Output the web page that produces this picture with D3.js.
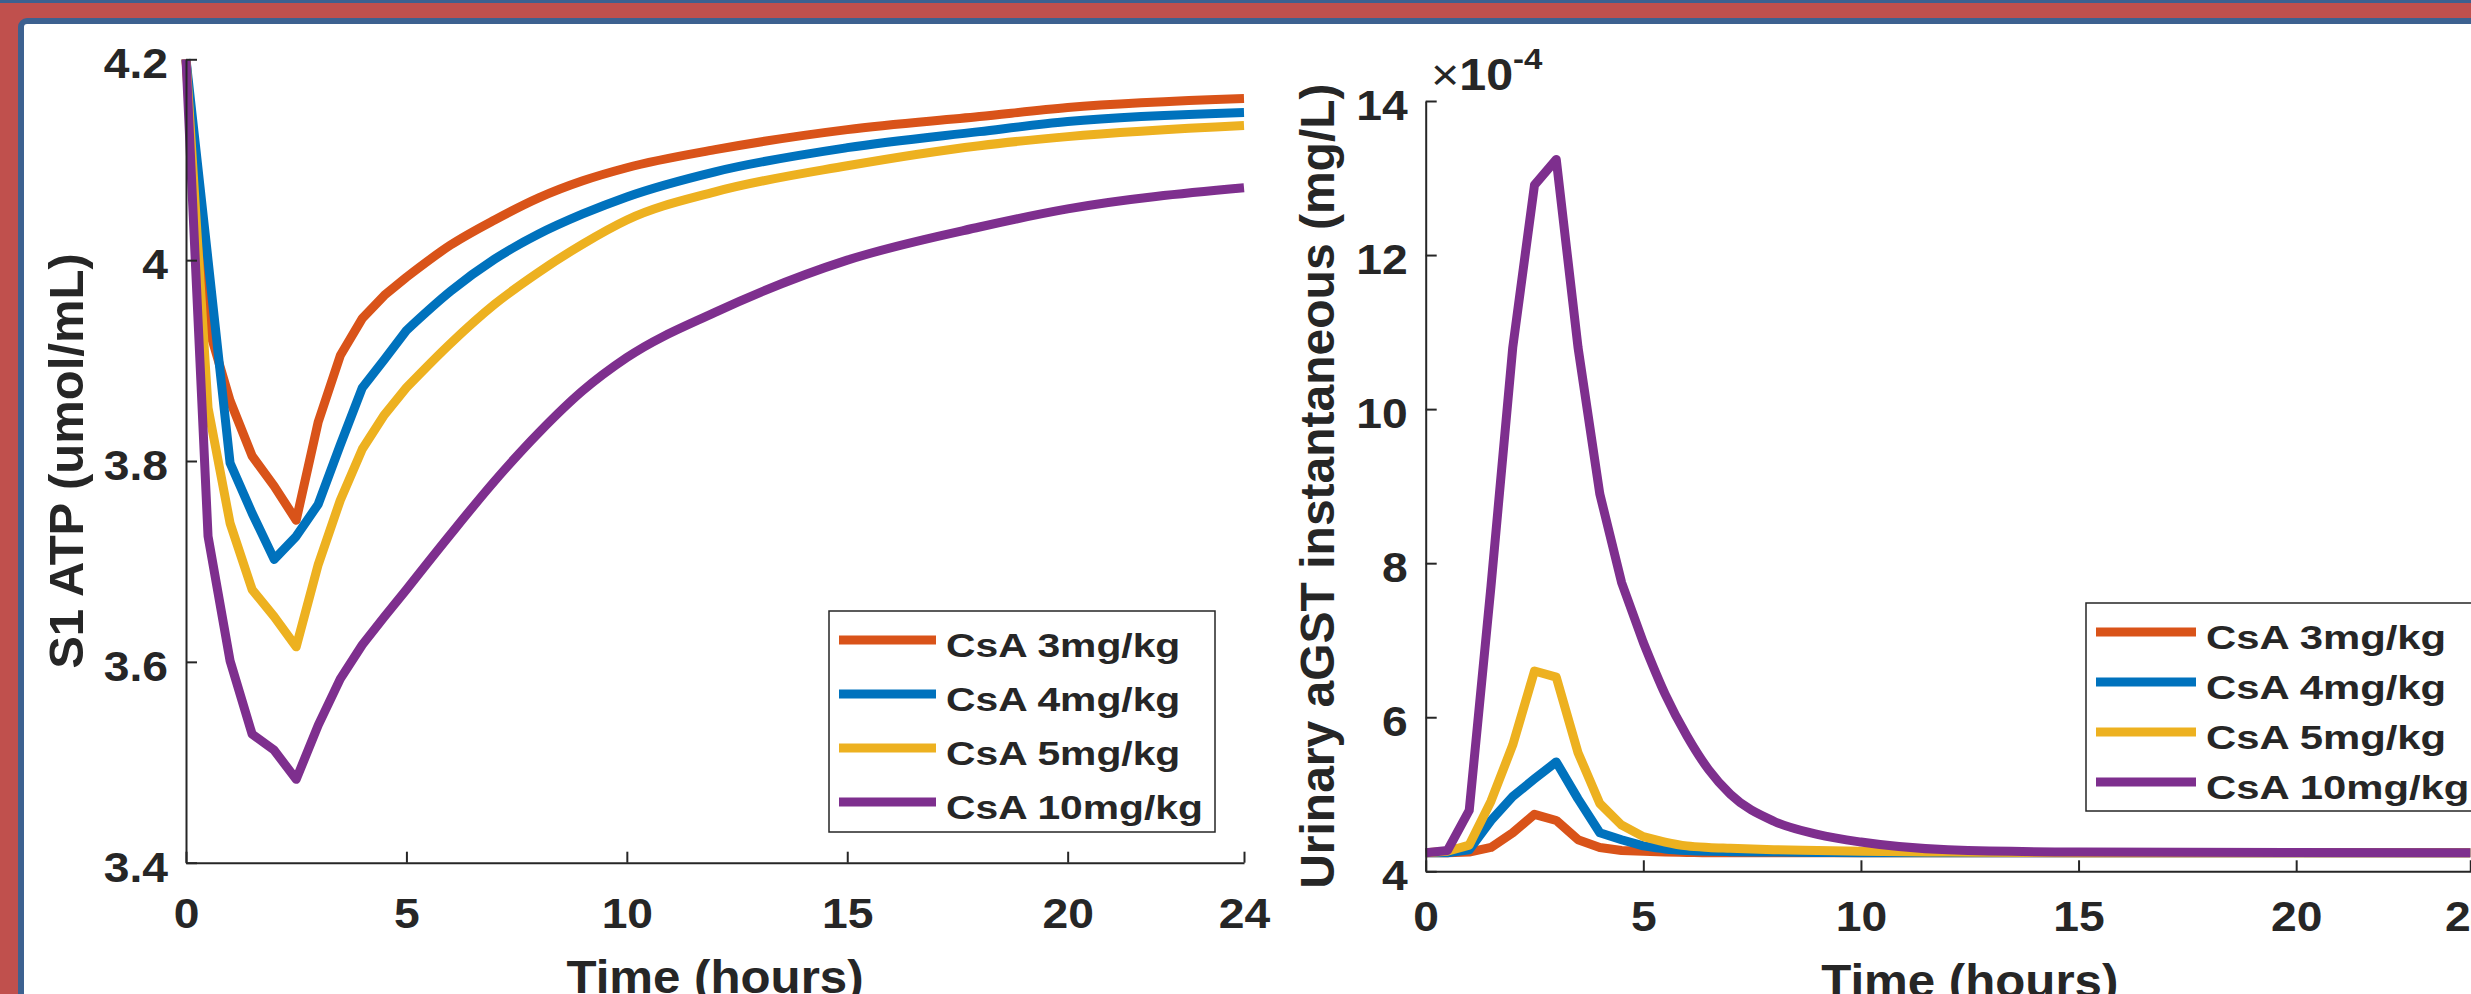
<!DOCTYPE html>
<html>
<head>
<meta charset="utf-8">
<script src="https://cdn.jsdelivr.net/npm/d3@7"></script>
<style>
  body { margin: 0; overflow: hidden; background: #fff; }
  svg { display: block; }
  text { font-family: "Liberation Sans", Arial, sans-serif; font-weight: bold; fill: #262626; }
</style>
</head>
<body>
<svg id="fig" width="2471" height="994"></svg>
<script>
// time grid (hours) and S1 ATP (umol/mL)
var hoursATP = [0, 0.5, 1, 1.5, 2, 2.5, 3, 3.5, 4, 4.5, 5, 6, 7, 8, 9, 10, 12, 15, 18, 20, 24]
var atp3  = [4.2, 3.935, 3.860, 3.805, 3.775, 3.741, 3.839, 3.905, 3.942, 3.965, 3.983, 4.015, 4.040, 4.062, 4.079, 4.092, 4.110, 4.130, 4.143, 4.152, 4.161]
var atp4  = [4.2, 4.000, 3.798, 3.748, 3.702, 3.725, 3.757, 3.816, 3.873, 3.901, 3.930, 3.969, 4.001, 4.026, 4.046, 4.063, 4.088, 4.112, 4.128, 4.138, 4.147]
var atp5  = [4.2, 3.853, 3.738, 3.672, 3.645, 3.615, 3.697, 3.761, 3.812, 3.846, 3.873, 3.917, 3.956, 3.988, 4.016, 4.040, 4.068, 4.094, 4.114, 4.123, 4.134]
var atp10 = [4.2, 3.725, 3.601, 3.528, 3.512, 3.483, 3.537, 3.583, 3.617, 3.645, 3.672, 3.727, 3.780, 3.828, 3.870, 3.903, 3.948, 4.000, 4.033, 4.051, 4.072]

// time grid (hours) and urinary aGST (x1e-4 mg/L)
var hoursGST = [0, 0.5, 1, 1.5, 2, 2.5, 3, 3.5, 4, 4.5, 5, 5.5, 6, 6.5, 7, 8, 9, 10, 12, 15, 24]
var gst3  = [4.24, 4.24, 4.25, 4.31, 4.50, 4.74, 4.66, 4.41, 4.31, 4.27, 4.26, 4.25, 4.245, 4.24, 4.24, 4.24, 4.24, 4.24, 4.24, 4.24, 4.24]
var gst4  = [4.24, 4.24, 4.28, 4.66, 4.97, 5.20, 5.42, 4.94, 4.50, 4.41, 4.33, 4.29, 4.27, 4.26, 4.255, 4.25, 4.245, 4.24, 4.24, 4.24, 4.24]
var gst5  = [4.24, 4.26, 4.34, 4.91, 5.64, 6.60, 6.52, 5.54, 4.88, 4.60, 4.45, 4.38, 4.33, 4.31, 4.30, 4.28, 4.27, 4.26, 4.25, 4.24, 4.24]
var gst10 = [4.24, 4.27, 4.79, 7.70, 10.80, 12.91, 13.24, 10.80, 8.90, 7.75, 6.97, 6.30, 5.76, 5.32, 5.00, 4.65, 4.48, 4.38, 4.28, 4.25, 4.24]

var doses = ['CsA 3mg/kg', 'CsA 4mg/kg', 'CsA 5mg/kg', 'CsA 10mg/kg']
var xTicks = [0, 5, 10, 15, 20, 24]
var yTicksATP = [3.4, 3.6, 3.8, 4, 4.2]
var yTicksGST = [4, 6, 8, 10, 12, 14]

var colors = ['#D95319', '#0072BD', '#EDB120', '#7E2F8E']
var ink = '#262626'
var frameBlue = '#3D6190'

var svg = d3.select('#fig')

// slide frame: red band, blue outlines, white panel
svg.append('rect').attr('width', 2471).attr('height', 994).attr('fill', '#C0504D')
svg.append('rect').attr('width', 2471).attr('height', 3).attr('fill', frameBlue)
svg.append('rect')
    .attr('x', 21).attr('y', 21).attr('width', 2700).attr('height', 1200).attr('rx', 6)
    .attr('fill', '#fff').attr('stroke', frameBlue).attr('stroke-width', 6)

// text placed at (x,y) and stretched horizontally like the pasted figure
function wideText(g, x, y, sx, size, str, anchor) {
    return g.append('text')
        .attr('transform', 'translate(' + x + ',' + y + ') scale(' + sx + ',1)')
        .attr('font-size', size)
        .attr('text-anchor', anchor || 'start')
        .text(str)
}

function drawPanel(p) {
    var g = svg.append('g')
    var x = d3.scaleLinear().domain(p.xDomain).range(p.xRange)
    var y = d3.scaleLinear().domain(p.yDomain).range(p.yRange)

    // sharp half-hour steps early on, smooth tail after 5 h
    var sharp = d3.line().x(function (d) { return x(d[0]) }).y(function (d) { return y(d[1]) })
    var smooth = d3.line().curve(d3.curveMonotoneX).x(function (d) { return x(d[0]) }).y(function (d) { return y(d[1]) })

    p.series.forEach(function (s, k) {
        var pts = s.map(function (v, i) { return [p.hours[i], v] })
        var cut = p.hours.indexOf(5)
        var d = sharp(pts.slice(0, cut + 1)) + smooth(pts.slice(cut)).replace(/^M[^LC]*/, '')
        g.append('path')
            .attr('d', d)
            .attr('fill', 'none')
            .attr('stroke', colors[k])
            .attr('stroke-width', 9)
            .attr('stroke-linejoin', 'round')
    })

    // x axis, ticks pointing inward
    var xa = g.append('g')
        .attr('transform', 'translate(0,' + p.yRange[0] + ')')
        .call(d3.axisBottom(x).tickValues(xTicks).tickSizeInner(-11).tickSizeOuter(0)
            .tickPadding(p.xPad).tickFormat(d3.format('d')))
    // y axis
    var ya = g.append('g')
        .attr('transform', 'translate(' + p.xRange[0] + ',0)')
        .call(d3.axisLeft(y).tickValues(p.yTicks).tickSizeInner(-11).tickSizeOuter(0)
            .tickFormat(function (d) { return String(d) }))

    ;[xa, ya].forEach(function (a) {
        a.attr('font-size', null).attr('font-family', null)
        a.select('.domain').attr('stroke', ink).attr('stroke-width', 2)
        a.selectAll('.tick line').attr('stroke', ink).attr('stroke-width', 2)
        a.selectAll('.tick text')
            .attr('font-size', 42)
            .attr('fill', ink)
            .attr('transform', 'scale(1.1,1)')
    })
    ya.selectAll('.tick text').attr('x', -18 / 1.1).attr('dy', '0.44em')

    // axis titles
    var xMid = (p.xRange[0] + p.xRange[1]) / 2
    wideText(g, xMid, p.xLabelY, 1.07, 46, 'Time (hours)', 'middle')
    g.append('text')
        .attr('transform', 'translate(' + p.yLabelX + ',' + (p.yRange[0] + p.yRange[1]) / 2 + ') rotate(-90)')
        .attr('font-size', p.yLabelSize)
        .attr('text-anchor', 'middle')
        .text(p.yLabel)

    // legend
    var L = p.legend
    g.append('rect')
        .attr('x', L.x).attr('y', L.y).attr('width', L.w).attr('height', L.h)
        .attr('fill', '#fff').attr('stroke', ink).attr('stroke-width', 1.5)
    doses.forEach(function (name, k) {
        var ry = L.row0 + k * L.step
        g.append('line')
            .attr('x1', L.x + 10).attr('x2', L.x + 10 + L.len)
            .attr('y1', ry).attr('y2', ry)
            .attr('stroke', colors[k]).attr('stroke-width', 9)
        wideText(g, L.x + 20 + L.len, ry + 16.5, L.sx, 34, name)
    })
    return g
}

drawPanel({
    hours: hoursATP,
    series: [atp3, atp4, atp5, atp10],
    xDomain: [0, 24], xRange: [186, 1244],
    yDomain: [3.4, 4.2], yRange: [862.7, 59.3],
    yTicks: yTicksATP,
    xPad: 35, xLabelY: 993,
    yLabel: 'S1 ATP (umol/mL)', yLabelX: 83, yLabelSize: 49,
    legend: { x: 829, y: 611, w: 386, h: 221, row0: 640, step: 54, len: 97, sx: 1.2 }
})

var right = drawPanel({
    hours: hoursGST,
    series: [gst3, gst4, gst5, gst10],
    xDomain: [0, 25], xRange: [1425.7, 2513.8],
    yDomain: [4, 14], yRange: [871.3, 101],
    yTicks: yTicksGST,
    xPad: 30, xLabelY: 997,
    yLabel: 'Urinary aGST instantaneous (mg/L)', yLabelX: 1334, yLabelSize: 48,
    legend: { x: 2086, y: 603, w: 400, h: 208, row0: 632, step: 50, len: 100, sx: 1.23 }
})

// exponent label above the right y axis
var expo = right.append('text')
    .attr('transform', 'translate(1431,90) scale(1.1,1)')
    .attr('font-size', 44)
expo.append('tspan').attr('font-weight', 'normal').text('\u00d7')
expo.append('tspan').text('10')
expo.append('tspan').attr('font-size', 30).attr('dy', -21).text('-4')
</script>
</body>
</html>
